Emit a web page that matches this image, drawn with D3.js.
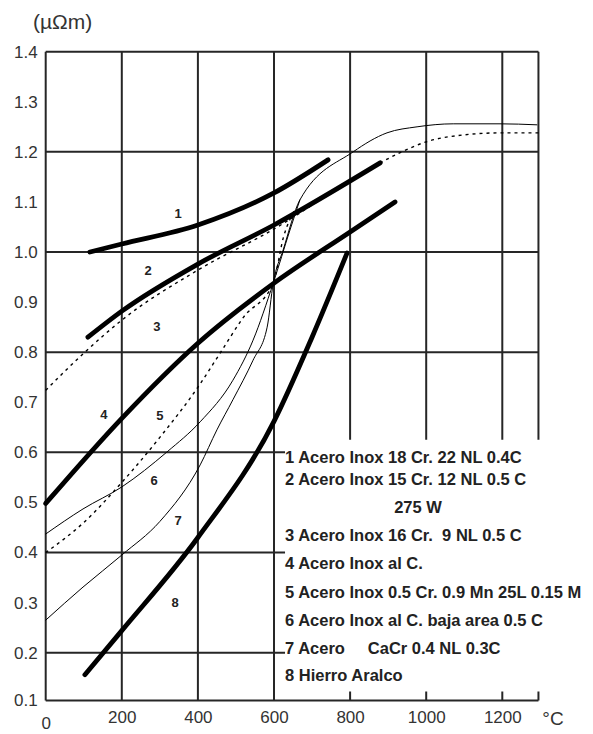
<!DOCTYPE html>
<html lang="es">
<head>
<meta charset="UTF-8">
<title>Resistividad</title>
<style>
  body { margin: 0; background: #fff; }
  svg { display: block; font-family: "Liberation Sans", Arial, sans-serif; }
</style>
</head>
<body>
<script src="https://d3js.org/d3.v7.min.js"></script>
<script>
// temperature (°C) vs resistivity (µΩm)
var curve1 = [[116, 1.0], [200, 1.016], [400, 1.054], [600, 1.118], [742, 1.184]];
var curve2 = [[111, 0.83], [200, 0.882], [400, 0.976], [600, 1.054], [879, 1.178]];
var curve3 = [[0, 0.724], [100, 0.798], [200, 0.864], [400, 0.964], [600, 1.046], [800, 1.142], [930, 1.198], [1000, 1.22], [1100, 1.234], [1200, 1.238], [1295, 1.238]];
var curve4 = [[0, 0.498], [200, 0.668], [400, 0.818], [600, 0.938], [800, 1.04], [918, 1.1]];
var curve5 = [[0, 0.4], [100, 0.46], [200, 0.54], [300, 0.63], [400, 0.73], [460, 0.8], [520, 0.87], [598, 0.938], [625, 1.03], [655, 1.085]];
var curve6 = [[0, 0.437], [98, 0.487], [200, 0.531], [319, 0.601], [406, 0.661], [492, 0.744], [545, 0.824], [598, 0.938], [642, 1.044], [668, 1.104]];
var curve7 = [[0, 0.265], [98, 0.331], [200, 0.395], [300, 0.462], [406, 0.575], [450, 0.645], [492, 0.705], [545, 0.784], [582, 0.85], [598, 0.938], [624, 1.004], [668, 1.104],
              [808, 1.2], [897, 1.238], [976, 1.25], [1071, 1.256], [1194, 1.256], [1291, 1.254]];
var curve8 = [[103, 0.154], [200, 0.244], [400, 0.43], [600, 0.662], [700, 0.83], [792, 0.998]];

var curveNames = ['1', '2', '3', '4', '5', '6', '7', '8'];
var curveStyle = ['thick', 'thick', 'dotted', 'thick', 'dotted', 'thin', 'thin', 'thick'];
// where each curve number is written (°C, µΩm)
var curveLabelAt = [[348, 1.078], [269, 0.964], [292, 0.852], [153, 0.676], [300, 0.674], [285, 0.544], [348, 0.464], [340, 0.30]];

var xTicks = [0, 200, 400, 600, 800, 1000, 1200];
var yTicks = [0.1, 0.2, 0.3, 0.4, 0.5, 0.6, 0.7, 0.8, 0.9, 1.0, 1.1, 1.2, 1.3, 1.4];
var xGridFull = [200, 400, 600];
var xGridUpper = [800, 1000, 1200];
var yGridFull = [1.2, 1.0, 0.8];
var yGridShort = [0.6, 0.4, 0.2];

var legendLines = [
    '1 Acero Inox 18 Cr. 22 NL 0.4C',
    '2 Acero Inox 15 Cr. 12 NL 0.5 C',
    '275 W',
    '3 Acero Inox 16 Cr.  9 NL 0.5 C',
    '4 Acero Inox al C.',
    '5 Acero Inox 0.5 Cr. 0.9 Mn 25L 0.15 M',
    '6 Acero Inox al C. baja area 0.5 C',
    '7 Acero     CaCr 0.4 NL 0.3C',
    '8 Hierro Aralco'
];

var W = 593, H = 734;
var tMax = 1295;      // right edge of the frame
var tShort = 629;     // lower grid lines stop where the legend starts
var vUpperStop = 0.625;

var svg = d3.select('body').append('svg')
    .attr('width', W)
    .attr('height', H);

var x = d3.scaleLinear().domain([0, 1200]).range([45.7, 502.3]);
var y = d3.scaleLinear().domain([0.1, 0.2, 1.4]).range([700.5, 652.7, 51.7]);

var ink = '#262626';

// grid
var grid = svg.append('g').attr('stroke', ink).attr('stroke-width', 2).attr('fill', 'none');

grid.selectAll('.vf').data(xGridFull).enter().append('line')
    .attr('x1', function (d) { return x(d); }).attr('x2', function (d) { return x(d); })
    .attr('y1', y(1.4)).attr('y2', y(0.1));
grid.selectAll('.vu').data(xGridUpper.concat([tMax])).enter().append('line')
    .attr('x1', function (d) { return x(d); }).attr('x2', function (d) { return x(d); })
    .attr('y1', y(1.4)).attr('y2', y(vUpperStop));
grid.selectAll('.hf').data(yGridFull.concat([1.4])).enter().append('line')
    .attr('x1', x(0)).attr('x2', x(tMax))
    .attr('y1', function (d) { return y(d); }).attr('y2', function (d) { return y(d); });
grid.selectAll('.hs').data(yGridShort).enter().append('line')
    .attr('x1', x(0)).attr('x2', x(tShort))
    .attr('y1', function (d) { return y(d); }).attr('y2', function (d) { return y(d); });

// frame: left and bottom
grid.append('line').attr('x1', x(0)).attr('x2', x(0)).attr('y1', y(1.4)).attr('y2', y(0.1));
grid.append('line').attr('x1', x(0)).attr('x2', x(tMax)).attr('y1', y(0.1)).attr('y2', y(0.1));
grid.selectAll('.bt').data(xGridUpper.concat([tMax])).enter().append('line')
    .attr('x1', function (d) { return x(d); }).attr('x2', function (d) { return x(d); })
    .attr('y1', y(0.1)).attr('y2', y(0.1) - 9);

// axes (labels only)
var yAxis = svg.append('g')
    .attr('transform', 'translate(' + x(0) + ',0)')
    .call(d3.axisLeft(y).tickValues(yTicks).tickSize(0).tickPadding(8).tickFormat(d3.format('.1f')));
yAxis.select('.domain').remove();
yAxis.selectAll('text').attr('font-size', 17).attr('fill', '#333')
    .attr('font-family', '"Liberation Sans", Arial, sans-serif');

var xAxis = svg.append('g')
    .attr('transform', 'translate(0,' + y(0.1) + ')')
    .call(d3.axisBottom(x).tickValues(xTicks).tickSize(0).tickPadding(10).tickFormat(d3.format('d')));
xAxis.select('.domain').remove();
xAxis.selectAll('text').attr('font-size', 17).attr('fill', '#333')
    .attr('font-family', '"Liberation Sans", Arial, sans-serif')
    .attr('dy', function (d) { return d === 0 ? '1.1em' : '0.71em'; });

svg.append('text').attr('x', x(1200) + 40).attr('y', y(0.1) + 24)
    .attr('font-size', 19).attr('fill', '#333').text('°C');
svg.append('text').attr('x', 33).attr('y', 29)
    .attr('font-size', 21).attr('fill', '#333').text('(µΩm)');

// curves
var line = d3.line()
    .x(function (d) { return x(d[0]); })
    .y(function (d) { return y(d[1]); })
    .curve(d3.curveMonotoneX);

var allCurves = [curve1, curve2, curve3, curve4, curve5, curve6, curve7, curve8];
var widths = { thick: 4.8, thin: 1, dotted: 1.4 };

svg.append('g').selectAll('path')
    .data(allCurves)
    .enter()
    .append('path')
    .attr('d', line)
    .attr('fill', 'none')
    .attr('stroke', '#000')
    .attr('stroke-width', function (d, i) { return widths[curveStyle[i]]; })
    .attr('stroke-dasharray', function (d, i) { return curveStyle[i] === 'dotted' ? '3,4' : null; })
    .attr('stroke-linecap', function (d, i) { return curveStyle[i] === 'dotted' ? 'butt' : 'round'; });

svg.append('g').selectAll('text')
    .data(curveLabelAt)
    .enter()
    .append('text')
    .attr('x', function (d) { return x(d[0]); })
    .attr('y', function (d) { return y(d[1]); })
    .attr('dy', '0.35em')
    .attr('text-anchor', 'middle')
    .attr('font-size', 13)
    .attr('font-weight', 'bold')
    .attr('fill', '#222')
    .text(function (d, i) { return curveNames[i]; });

// legend
var legendY = [457, 479, 507, 535, 563, 592, 620, 648, 675];
svg.append('g').selectAll('text')
    .data(legendLines)
    .enter()
    .append('text')
    .attr('x', function (d) { return d === '275 W' ? 418 : 285; })
    .attr('y', function (d, i) { return legendY[i]; })
    .attr('dy', '0.35em')
    .attr('text-anchor', function (d) { return d === '275 W' ? 'middle' : 'start'; })
    .attr('font-size', 16.5)
    .attr('font-weight', 'bold')
    .attr('fill', '#222')
    .style('white-space', 'pre')
    .text(function (d) { return d; });
</script>
</body>
</html>
